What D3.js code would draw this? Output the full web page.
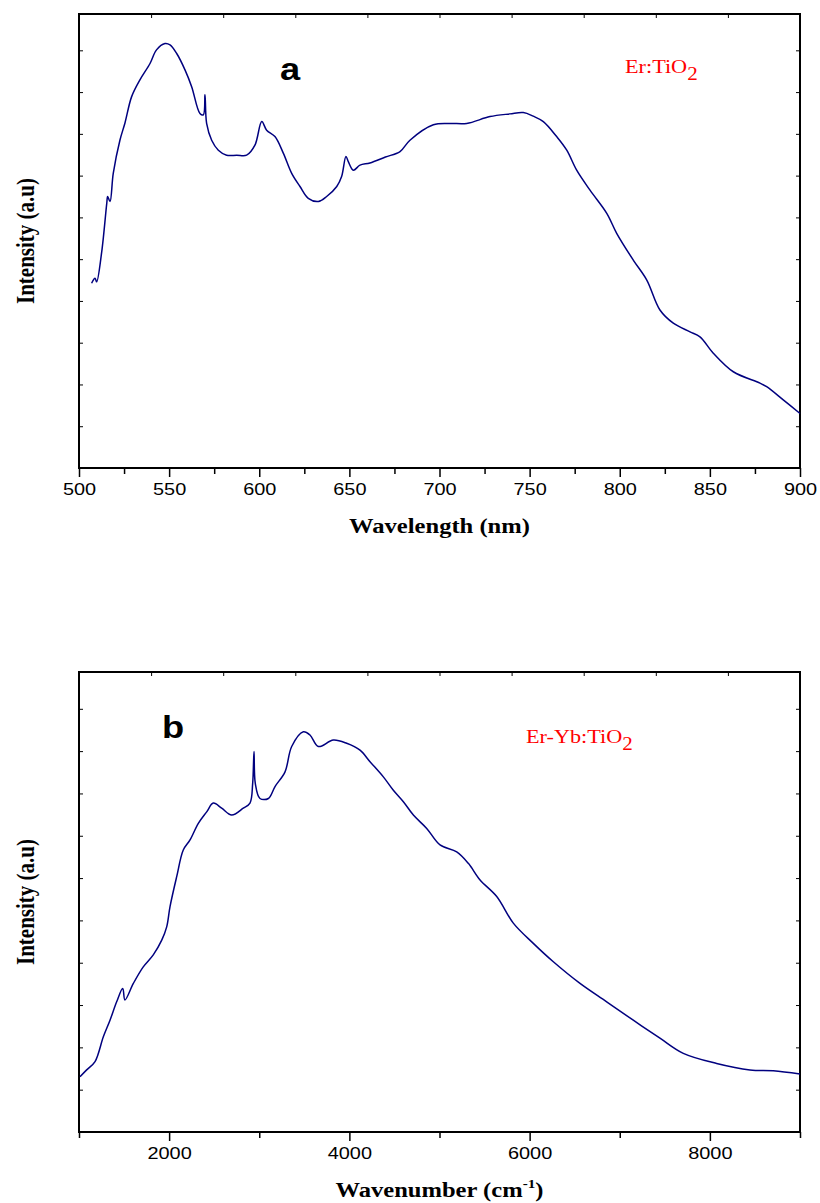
<!DOCTYPE html>
<html lang="en">
<head>
    <meta charset="UTF-8">
    <title>Er:TiO2 / Er-Yb:TiO2 spectra</title>
    <script src="https://d3js.org/d3.v7.min.js"></script>
    <style>
        body {margin: 0; background: white;}
        svg {display: block;}
        .tick text {font-family: "Liberation Sans", Arial, sans-serif; font-size: 17px; fill: black;}
        .title {font-family: "Liberation Serif", "Times New Roman", serif; font-weight: bold; font-size: 21px;}
        .legend {font-family: "Liberation Serif", "Times New Roman", serif; font-size: 19px; fill: red;}
        .letter {font-family: "Liberation Sans", Arial, sans-serif; font-weight: bold; font-size: 31px;}
    </style>
</head>
<body>
<script>
    const width = 820;
    const height = 1203;
    const SX = 1.17; // the source picture is stretched sideways

    // panel a: Er:TiO2, wavelength (nm) vs intensity (a.u.)
    const wavelengthA = [507, 508.9, 509.8, 512.6, 515.4, 515.9, 517.2, 519, 522.7, 525.5, 529.2, 533.8,
        539.4, 543, 547.7, 550.5, 554.2, 558.8, 562.5, 567.1, 569, 569.9, 570.8, 573.6, 577.3, 581.9,
        587.5, 593, 597.6, 601.4, 604.1, 608.7, 613.4, 618, 622.6, 627.2, 632.8, 637.4, 643, 645.7,
        648.1, 649.4, 652.2, 655.9, 661.4, 670, 678.1, 683.6, 696.6, 705.8, 715.1, 728, 739.1, 746.5,
        752, 757.6, 765, 770.6, 776.1, 783.5, 792.8, 798.3, 807.5, 815, 822.3, 829.7, 839, 844.5,
        851.9, 863, 877.8, 881.5, 890.7, 900];
    const intensityA = [0.407, 0.418, 0.410, 0.476, 0.583, 0.598, 0.587, 0.649, 0.722, 0.760, 0.818, 0.855,
        0.891, 0.921, 0.935, 0.932, 0.913, 0.877, 0.840, 0.781, 0.778, 0.822, 0.759, 0.722, 0.700, 0.689,
        0.689, 0.689, 0.711, 0.763, 0.744, 0.730, 0.693, 0.649, 0.620, 0.594, 0.587, 0.598, 0.620, 0.642,
        0.686, 0.675, 0.656, 0.667, 0.672, 0.685, 0.697, 0.722, 0.756, 0.759, 0.759, 0.774, 0.780, 0.783,
        0.775, 0.763, 0.730, 0.700, 0.656, 0.612, 0.561, 0.517, 0.458, 0.414, 0.348, 0.319, 0.300, 0.289,
        0.253, 0.212, 0.187, 0.179, 0.150, 0.120];

    // panel b: Er-Yb:TiO2, wavenumber (cm-1) vs intensity (a.u.)
    const wavenumberB = [1011, 1085, 1178, 1270, 1344, 1418, 1485, 1510, 1603, 1713, 1824, 1918, 1973,
        2010, 2084, 2157, 2232, 2324, 2417, 2490, 2583, 2694, 2823, 2897, 2927, 2942, 2956, 3008, 3101,
        3175, 3286, 3360, 3489, 3563, 3655, 3822, 3970, 4118, 4229, 4377, 4488, 4599, 4710, 4858, 5006,
        5191, 5320, 5450, 5635, 5819, 6041, 6263, 6559, 6855, 7150, 7446, 7705, 8075, 8445, 8704, 9000];
    const intensityB = [0.120, 0.135, 0.153, 0.207, 0.243, 0.283, 0.312, 0.287, 0.323, 0.359, 0.385, 0.417, 0.446,
        0.490, 0.555, 0.613, 0.635, 0.671, 0.696, 0.715, 0.704, 0.689, 0.704, 0.715, 0.758, 0.827, 0.758, 0.725, 0.725,
        0.751, 0.783, 0.838, 0.870, 0.863, 0.838, 0.852, 0.845, 0.830, 0.805, 0.772, 0.743, 0.718, 0.689, 0.660, 0.624,
        0.609, 0.584, 0.548, 0.512, 0.454, 0.410, 0.370, 0.323, 0.283, 0.243, 0.204, 0.171, 0.149, 0.135, 0.133, 0.126];

    const ticksA = [500, 550, 600, 650, 700, 750, 800, 850, 900];
    const ticksB = [2000, 4000, 6000, 8000];

    const svg = d3.select("body").append("svg")
            .attr("width", width).attr("height", height);

    function panel(opt) {
        const x = d3.scaleLinear().domain(opt.xDomain).range([79, 800]);
        const y = d3.scaleLinear().domain([0, 1]).range([opt.bottom, opt.top]);
        const g = svg.append("g");

        // minor ticks on the bottom axis
        g.append("g")
                .attr("transform", `translate(0,${opt.bottom})`)
                .call(d3.axisBottom(x).tickValues(opt.minor).tickSize(6).tickFormat(""))
                .call(a => a.select(".domain").remove())
                .selectAll("line").attr("stroke-width", 1.5);

        // major ticks with labels
        g.append("g")
                .attr("transform", `translate(0,${opt.bottom})`)
                .call(d3.axisBottom(x).tickValues(opt.major).tickSize(9).tickPadding(6).tickFormat(d3.format("d")))
                .call(a => a.select(".domain").remove())
                .call(a => a.selectAll("line").attr("stroke-width", 1.5))
                .selectAll("text").attr("transform", `scale(${SX},1)`);

        // small inward ticks on top, left and right
        const d0 = opt.xDomain[0], d1 = opt.xDomain[1];
        const topVals = d3.range(d0, d1 + 1, (d1 - d0) / 10);
        g.append("g")
                .attr("transform", `translate(0,${opt.top})`)
                .call(d3.axisBottom(x).tickValues(topVals).tickSize(4).tickFormat(""))
                .call(a => a.select(".domain").remove());
        const sideVals = d3.range(0, 1, 0.092);
        g.append("g")
                .attr("transform", "translate(79,0)")
                .call(d3.axisRight(y).tickValues(sideVals).tickSize(4).tickFormat(""))
                .call(a => a.select(".domain").remove());
        g.append("g")
                .attr("transform", "translate(800,0)")
                .call(d3.axisLeft(y).tickValues(sideVals).tickSize(4).tickFormat(""))
                .call(a => a.select(".domain").remove());

        // frame
        g.append("rect")
                .attr("x", 79).attr("y", opt.top)
                .attr("width", 721).attr("height", opt.bottom - opt.top)
                .style("fill", "none").style("stroke", "black").style("stroke-width", 2);

        // spectrum
        const line = d3.line()
                .x((d, i) => x(opt.xs[i]))
                .y(d => y(d))
                .curve(d3.curveCatmullRom.alpha(0.5));
        g.append("path")
                .datum(opt.ys)
                .attr("d", line)
                .style("fill", "none")
                .style("stroke", "#00007f")
                .style("stroke-width", 1.5)
                .style("stroke-linejoin", "round");

        // y title
        g.append("text").attr("class", "title")
                .attr("transform", `translate(34,${(opt.top + opt.bottom) / 2}) rotate(-90) scale(1,${SX})`)
                .attr("text-anchor", "middle")
                .text("Intensity (a.u)");

        // panel letter
        g.append("text").attr("class", "letter")
                .attr("transform", `translate(${opt.letterPos[0]},${opt.letterPos[1]}) scale(${SX},1)`)
                .text(opt.letter);

        // red sample label
        const lg = g.append("text").attr("class", "legend")
                .attr("transform", `translate(${opt.legendPos[0]},${opt.legendPos[1]}) scale(${SX},1)`);
        lg.append("tspan").text(opt.legend);
        lg.append("tspan").attr("dy", 7).style("font-size", "18px").text("2");

        return g;
    }

    const ga = panel({
        xDomain: [500, 900], top: 14, bottom: 468,
        major: ticksA, minor: d3.range(525, 900, 50),
        xs: wavelengthA, ys: intensityA,
        letter: "a", letterPos: [280, 80],
        legend: "Er:TiO", legendPos: [625, 73]
    });
    ga.append("text").attr("class", "title")
            .attr("transform", `translate(439.5,533) scale(${SX},1)`)
            .attr("text-anchor", "middle")
            .text("Wavelength (nm)");

    const gb = panel({
        xDomain: [1000, 9000], top: 672, bottom: 1132,
        major: ticksB, minor: [1000, 3000, 5000, 7000, 9000],
        xs: wavenumberB, ys: intensityB,
        letter: "b", letterPos: [162, 738],
        legend: "Er-Yb:TiO", legendPos: [526, 743]
    });
    const tb = gb.append("text").attr("class", "title")
            .attr("transform", `translate(439.5,1197) scale(${SX},1)`)
            .attr("text-anchor", "middle");
    tb.append("tspan").text("Wavenumber (cm");
    tb.append("tspan").attr("dy", -9).style("font-size", "13px").text("-1");
    tb.append("tspan").attr("dy", 9).text(")");
</script>
</body>
</html>
